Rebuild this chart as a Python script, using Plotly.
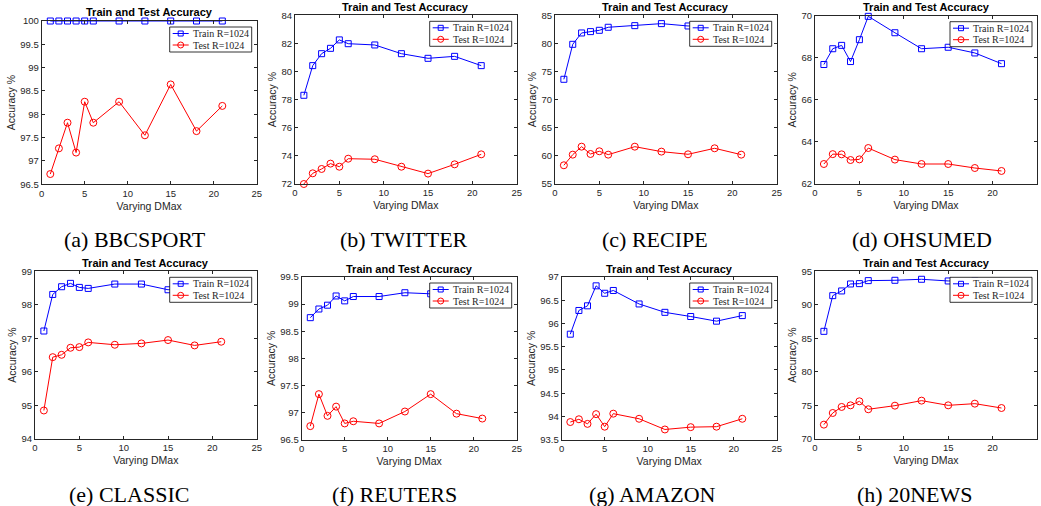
import plotly.graph_objects as go

W, H = 1041, 506

x_dmax = [1, 2, 3, 4, 5, 6, 9, 12, 15, 18, 21]

bbcsport_train = [100, 100, 100, 100, 100, 100, 100, 100, 100, 100, 100]
bbcsport_test = [96.72, 97.27, 97.82, 97.18, 98.27, 97.82, 98.27, 97.55, 98.64, 97.64, 98.18]

twitter_train = [78.31, 80.42, 81.27, 81.65, 82.25, 81.98, 81.89, 81.27, 80.94, 81.08, 80.42]
twitter_test = [72.0, 72.76, 73.07, 73.45, 73.23, 73.80, 73.76, 73.23, 72.74, 73.40, 74.11]

recipe_train = [73.62, 79.84, 81.86, 82.10, 82.33, 82.87, 83.16, 83.52, 83.10, 83.2, 82.9]
recipe_test = [58.33, 60.22, 61.64, 60.34, 60.82, 60.22, 61.64, 60.76, 60.28, 61.35, 60.22]

ohsumed_train = [67.68, 68.43, 68.59, 67.82, 68.86, 69.97, 69.19, 68.43, 68.50, 68.23, 67.72]
ohsumed_test = [62.95, 63.42, 63.41, 63.14, 63.17, 63.71, 63.16, 62.95, 62.95, 62.76, 62.62]

classic_train = [97.22, 98.31, 98.54, 98.64, 98.52, 98.49, 98.62, 98.62, 98.45, 98.5, 98.55]
classic_test = [94.85, 96.44, 96.51, 96.72, 96.74, 96.88, 96.81, 96.85, 96.95, 96.79, 96.90]

reuters_train = [98.75, 98.91, 98.98, 99.15, 99.06, 99.14, 99.14, 99.21, 99.19, 99.2, 99.2]
reuters_test = [96.75, 97.34, 96.94, 97.11, 96.80, 96.84, 96.80, 97.02, 97.34, 96.98, 96.89]

amazon_train = [95.77, 96.28, 96.38, 96.81, 96.65, 96.71, 96.42, 96.24, 96.15, 96.05, 96.17]
amazon_test = [93.88, 93.94, 93.84, 94.05, 93.78, 94.06, 93.95, 93.72, 93.77, 93.78, 93.95]

news20_train = [86.05, 91.37, 92.07, 93.11, 93.16, 93.61, 93.66, 93.81, 93.56, 93.6, 93.5]
news20_test = [72.14, 73.88, 74.78, 75.02, 75.62, 74.43, 74.97, 75.72, 75.02, 75.27, 74.62]

captions = ["(a) BBCSPORT", "(b) TWITTER", "(c) RECIPE", "(d) OHSUMED",
            "(e) CLASSIC", "(f) REUTERS", "(g) AMAZON", "(h) 20NEWS"]
series_names = ["Train R=1024", "Test R=1024"]
y_ranges = [(96.5, 100), (72, 84), (55, 85), (62, 70),
            (94, 99), (96.5, 99.5), (93.5, 97), (70, 95)]
y_dticks = [0.5, 2, 5, 2, 1, 0.5, 0.5, 5]
train_sets = [bbcsport_train, twitter_train, recipe_train, ohsumed_train,
              classic_train, reuters_train, amazon_train, news20_train]
test_sets = [bbcsport_test, twitter_test, recipe_test, ohsumed_test,
             classic_test, reuters_test, amazon_test, news20_test]

# plot area boxes in pixels: (left, right, top, bottom)
boxes = [(41.7, 256.7, 21, 184.3), (295, 516.7, 15.3, 184), (555, 776.7, 15.3, 184), (815, 1037, 15.7, 184),
         (35, 256.7, 271.3, 439), (301.7, 516.7, 277, 439.7), (561.7, 776.7, 277, 439.7), (815, 1037, 271.3, 439)]
caption_pos = [(134.5, 240), (404, 240), (655, 240), (922, 240),
               (129, 494), (394, 494), (652, 494), (914, 494)]

SANS = "Liberation Sans, Arial, sans-serif"
SERIF = "Liberation Serif, Times New Roman, serif"
AXC = "#262626"
BLUE = "#0000ff"
RED = "#ff0000"


def px(x):
    return x / W


def py(y):
    return 1 - y / H


fig = go.Figure()
layout = dict(width=W, height=H, margin=dict(l=0, r=0, t=0, b=0, autoexpand=False),
              paper_bgcolor="white", plot_bgcolor="white", showlegend=False)
annotations = []
shapes = []

for i in range(8):
    n = i + 1
    xa = "x" if n == 1 else f"x{n}"
    ya = "y" if n == 1 else f"y{n}"
    L, R, T, B = boxes[i]
    fig.add_trace(go.Scatter(x=x_dmax, y=train_sets[i], mode="lines+markers", name=series_names[0],
                             xaxis=xa, yaxis=ya, cliponaxis=False,
                             line=dict(color=BLUE, width=1),
                             marker=dict(symbol="square-open", size=6, color=BLUE, line=dict(width=1))))
    fig.add_trace(go.Scatter(x=x_dmax, y=test_sets[i], mode="lines+markers", name=series_names[1],
                             xaxis=xa, yaxis=ya, cliponaxis=False,
                             line=dict(color=RED, width=1),
                             marker=dict(symbol="circle-open", size=7, color=RED, line=dict(width=1))))
    axcommon = dict(showline=True, linecolor=AXC, linewidth=1, mirror="ticks", ticks="inside",
                    ticklen=3, tickwidth=1, tickcolor=AXC, showgrid=False, zeroline=False,
                    tickfont=dict(family=SANS, size=9.5, color=AXC))
    layout["xaxis" if n == 1 else f"xaxis{n}"] = dict(
        domain=[L / W, R / W], anchor=ya, range=[0, 25], dtick=5, tick0=0,
        title=dict(text="Varying DMax", font=dict(family=SANS, size=10.5, color=AXC), standoff=4),
        **axcommon)
    layout["yaxis" if n == 1 else f"yaxis{n}"] = dict(
        domain=[1 - B / H, 1 - T / H], anchor=xa, range=list(y_ranges[i]), dtick=y_dticks[i],
        tick0=y_ranges[i][0],
        title=dict(text="Accuracy %", font=dict(family=SANS, size=10.5, color=AXC), standoff=2),
        **axcommon)

    # compact MATLAB-style legend box in the top-right corner
    bl, br, bt, bb = R - 87, R - 5, T + 6, T + 31
    shapes.append(dict(type="rect", xref="paper", yref="paper", x0=px(bl), x1=px(br), y0=py(bb), y1=py(bt),
                       fillcolor="white", line=dict(color="#000000", width=0.8), layer="above"))
    rows = [T + 12.5, T + 24]
    colors = [BLUE, RED]
    for k in range(2):
        ry = rows[k]
        shapes.append(dict(type="line", xref="paper", yref="paper", x0=px(R - 84), x1=px(R - 68),
                           y0=py(ry), y1=py(ry), line=dict(color=colors[k], width=1), layer="above"))
        cx = R - 76
        if k == 0:
            shapes.append(dict(type="rect", xref="paper", yref="paper", x0=px(cx - 2.5), x1=px(cx + 2.5),
                               y0=py(ry + 2.5), y1=py(ry - 2.5), fillcolor="rgba(0,0,0,0)",
                               line=dict(color=colors[k], width=1), layer="above"))
        else:
            shapes.append(dict(type="circle", xref="paper", yref="paper", x0=px(cx - 3), x1=px(cx + 3),
                               y0=py(ry + 3), y1=py(ry - 3), fillcolor="rgba(0,0,0,0)",
                               line=dict(color=colors[k], width=1), layer="above"))
        annotations.append(dict(text=series_names[k], xref="paper", yref="paper", x=px(R - 66), y=py(ry),
                                xanchor="left", yanchor="middle", showarrow=False,
                                font=dict(family=SERIF, size=10, color=AXC)))

    annotations.append(dict(text="<b>Train and Test Accuracy</b>", xref="paper", yref="paper",
                            x=(L + R) / 2 / W, y=1 - (T - 0.5) / H, xanchor="center", yanchor="bottom",
                            showarrow=False, font=dict(family=SANS, size=11, color="#000000")))
    cx, cy = caption_pos[i]
    annotations.append(dict(text=captions[i], xref="paper", yref="paper",
                            x=cx / W, y=1 - cy / H, xanchor="center", yanchor="middle",
                            showarrow=False, font=dict(family=SERIF, size=22, color="#000000")))

layout["annotations"] = annotations
layout["shapes"] = shapes
fig.update_layout(**layout)
fig.write_html("out.html", config={"displayModeBar": False},
               post_script="document.body.style.margin='0px';document.body.style.overflow='hidden';")
